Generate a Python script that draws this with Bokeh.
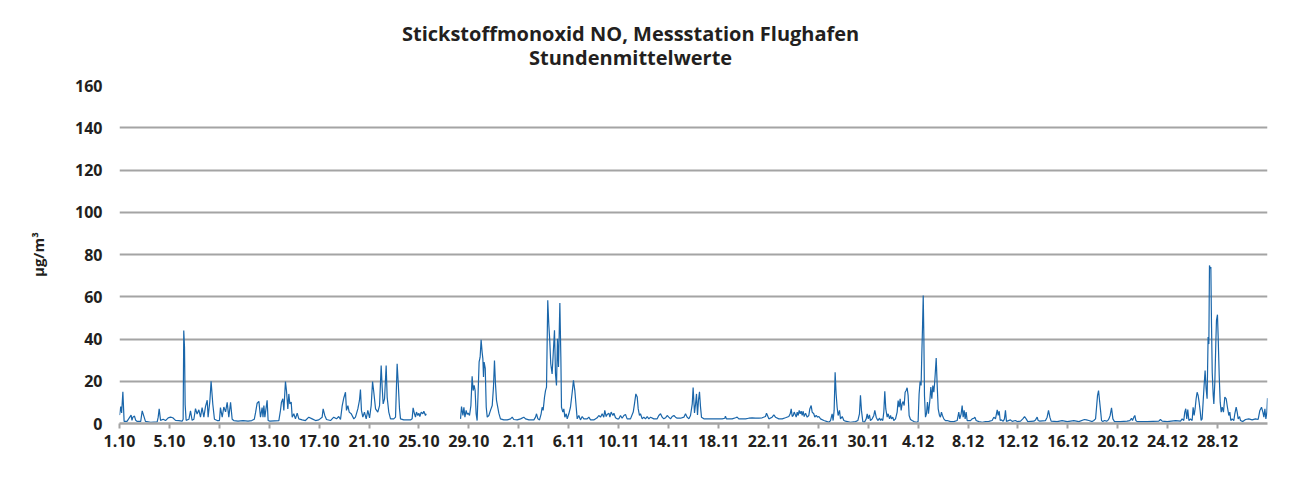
import numpy as np
from bokeh.plotting import figure
from bokeh.layouts import column
from bokeh.models import FixedTicker, Range1d
from bokeh.core.properties import value
from bokeh.embed import file_html
from bokeh.resources import INLINE

# time in days since 1.10 00:00, hourly NO values in µg/m³
days = [
    0.0, 0.1, 0.17, 0.27, 0.37, 0.6, 0.93, 1.0, 1.07, 1.2, 1.3, 1.42, 1.7, 1.82, 1.95, 2.08, 2.5, 3.02, 3.1, 3.18,
    3.29, 3.5, 3.69, 3.9, 4.09, 4.27, 4.49, 4.75, 5.02, 5.1, 5.15, 5.21, 5.26, 5.34, 5.56, 5.69, 5.82, 5.96, 6.09, 6.22,
    6.36, 6.49, 6.62, 6.76, 6.89, 7.03, 7.1, 7.24, 7.34, 7.48, 7.61, 7.83, 8.01, 8.09, 8.23, 8.36, 8.5, 8.63, 8.76, 8.9,
    9.03, 9.16, 9.5, 9.9, 10.3, 10.6, 10.8, 10.9, 11.03, 11.17, 11.3, 11.43, 11.5, 11.57, 11.65, 11.83, 11.91, 12.05,
    12.77, 12.9, 12.98, 13.09, 13.17, 13.3, 13.38, 13.49, 13.57, 13.65, 13.76, 13.84, 13.97, 14.1, 14.24, 14.37, 14.64,
    14.9, 15.17, 15.44, 15.71, 15.97, 16.24, 16.32, 16.45, 16.59, 16.91, 17.17, 17.39, 17.57, 17.71, 17.85, 17.98,
    18.11, 18.19, 18.3, 18.41, 18.57, 18.78, 18.91, 19.1, 19.23, 19.31, 19.39, 19.5, 19.63, 19.77, 19.9, 20.04, 20.17,
    20.28, 20.38, 20.52, 20.7, 20.84, 20.97, 21.05, 21.13, 21.24, 21.37, 21.45, 21.58, 21.72, 21.98, 22.12, 22.25,
    22.34, 22.44, 22.52, 22.78, 23.32,
    23.45, 23.53, 23.64, 23.72, 23.8, 23.91, 23.99, 24.07, 24.18, 24.31, 24.39, 24.52, 24.58,
    26.0,
    27.33, 27.41, 27.52, 27.6, 27.68, 27.78, 27.86, 27.94, 28.05, 28.16, 28.26, 28.34, 28.42, 28.5, 28.58, 28.66,
    28.74, 28.82, 28.9, 28.98, 29.06, 29.12, 29.17, 29.22, 29.31, 29.39, 29.47, 29.6, 29.73, 29.87, 29.97, 30.05,
    30.13, 30.21, 30.29, 30.4, 30.53, 30.8, 31.07, 31.34, 31.47, 31.6, 31.87, 32.14, 32.4, 32.54, 32.81, 33.21, 33.34,
    33.42, 33.53, 33.66, 33.79, 33.87, 33.95, 34.06, 34.14, 34.22, 34.32, 34.4, 34.48, 34.56, 34.67, 34.75, 34.86,
    34.94, 35.02, 35.1, 35.18, 35.29, 35.37, 35.42, 35.53, 35.61, 35.69, 35.8, 35.88, 36.01, 36.14, 36.28, 36.38,
    36.49, 36.6, 36.68, 36.81, 36.94, 37.08, 37.21, 37.48, 37.61, 37.75, 38.01, 38.28, 38.41, 38.55, 38.68, 38.81,
    38.89, 39.0, 39.08, 39.22, 39.3, 39.4, 39.54, 39.62, 39.75, 39.88, 40.02, 40.15, 40.28, 40.42, 40.55, 40.68,
    40.95, 41.17, 41.27, 41.38, 41.49, 41.57, 41.67, 41.75, 41.89, 42.02, 42.15, 42.29, 42.42, 42.56, 42.82, 43.09,
    43.22, 43.36, 43.49, 43.62, 43.76, 43.89, 44.02, 44.16, 44.29, 44.43, 44.56, 44.69, 44.96, 45.23, 45.36, 45.49,
    45.63, 45.76, 45.9, 45.97, 46.08, 46.16, 46.24, 46.32, 46.4, 46.48, 46.56, 46.64,
    46.83, 47.23, 47.76, 48.3, 48.51, 48.56, 48.64, 49.1, 49.37, 49.5, 49.63, 50.17, 50.43, 50.7, 50.97, 51.24, 51.5,
    51.77, 51.85, 51.93, 52.04, 52.3, 52.44, 52.57, 52.84, 53.11, 53.37, 53.64, 53.75, 53.83, 53.91, 53.99, 54.07,
    54.15, 54.23, 54.31, 54.39, 54.47, 54.55, 54.63, 54.71, 54.79, 54.87, 54.98, 55.11, 55.24, 55.32, 55.43, 55.51,
    55.64, 55.72, 55.83, 55.94, 56.05, 56.18, 56.45, 56.71, 56.85, 56.98, 57.11, 57.19, 57.27, 57.35, 57.43, 57.51,
    57.59, 57.7, 57.78, 57.92, 58.05, 58.18,
    58.58, 58.98, 59.17, 59.3, 59.38, 59.46, 59.57, 59.7, 59.84, 59.92, 60.0, 60.1, 60.18, 60.32, 60.45, 60.53, 60.64,
    60.77, 60.91, 60.99, 61.07, 61.17, 61.25, 61.33, 61.41, 61.52, 61.6, 61.71, 61.79, 61.87, 61.97, 62.05, 62.19,
    62.32, 62.4, 62.48, 62.56, 62.64, 62.72, 62.8, 62.88, 62.96, 63.04, 63.12, 63.2, 63.28, 63.39, 63.52, 63.66,
    63.87, 64.0, 64.08, 64.16, 64.24, 64.3, 64.35, 64.41, 64.46, 64.51, 64.59, 64.67, 64.75, 64.83, 64.94, 65.02,
    65.1, 65.18, 65.26, 65.34, 65.45, 65.53, 65.61, 65.71, 65.79, 65.87, 65.95, 66.06, 66.19, 66.33, 66.6, 66.86,
    67.13, 67.26, 67.34, 67.45, 67.53, 67.61, 67.69, 67.77, 67.85, 67.93, 68.2, 68.33, 68.47, 68.55, 68.65, 68.87,
    69.14, 69.4,
    69.67, 69.93, 70.07, 70.2, 70.34, 70.42, 70.5, 70.58, 70.68, 70.82, 70.92, 71.0, 71.08, 71.4, 71.54, 71.8, 71.94,
    72.21, 72.39, 72.53, 72.66, 72.79, 73.27, 73.41, 73.54, 73.62, 73.75, 74.21, 74.34, 74.45, 74.56, 74.66, 75.14,
    75.54, 75.95, 76.48, 76.88, 77.33, 77.49, 77.68, 77.95, 78.08, 78.22, 78.3, 78.38, 78.46, 78.54, 78.62, 78.7,
    78.8, 78.94, 79.1, 79.2, 79.29, 79.39, 79.5, 79.61, 79.74, 80.22, 80.75, 80.97, 81.1, 81.18,
    81.29, 81.37, 81.45, 81.55, 82.36, 83.29, 83.42, 83.56, 83.96, 84.63, 85.03, 85.16, 85.29, 85.37, 85.45, 85.53,
    85.61, 85.7, 85.83, 85.96, 86.04, 86.12, 86.2, 86.28, 86.36, 86.44, 86.52, 86.6, 86.68, 86.76, 86.84, 86.92,
    87.0, 87.08, 87.16, 87.24, 87.3, 87.35, 87.41, 87.46, 87.51, 87.57, 87.65, 87.7, 87.78, 87.86, 87.91, 87.99,
    88.05, 88.13, 88.21, 88.29, 88.37, 88.47, 88.58, 88.69, 88.79, 88.9, 88.98, 89.06, 89.17, 89.3, 89.38, 89.49,
    89.57, 89.65, 89.76, 89.84, 90.02, 90.24, 90.5, 90.77, 91.04, 91.25, 91.39, 91.52, 91.63, 91.71, 91.79, 91.87,
    91.95, 92.0,
]

no_values = [
    4, 8, 5, 15, 1, 1, 4, 1.5, 3, 3.5, 1.5, 1, 1, 6, 3.5, 1, 0.6, 0.8, 3, 7,
    1.5, 2, 1.4, 2.7, 3, 2.7, 1.5, 1.4, 1.1, 2, 44, 36, 9, 1.5, 2, 6, 1.5, 2, 7, 4.5,
    6.5, 3, 7.5, 3, 8, 11, 3, 10.5, 20, 9, 2, 1.4, 1.4, 7.5, 3, 7.8, 5.5, 10, 3, 10,
    2, 1.4, 1.1, 1.4, 1.1, 1.4, 2, 5, 9.6, 10.5, 3, 7.5, 3, 8.5, 3, 11, 1.4, 1.1,
    1.4, 6.2, 10.1, 11.7, 6.2, 19.9, 15.6, 6.9, 14, 9.3, 10.1, 3, 4.6, 2.2, 4.9, 2.2, 1.7,
    1.4, 3, 2.2, 1.4, 1.7, 3, 6.9, 3.8, 1.9, 1.4, 3, 2.2, 3.3, 1.9, 8.5, 12.2,
    14.8, 6.2, 8.5, 5.4, 4.6, 2.2, 3, 6.9, 10.9, 16.1, 6.2, 3, 5.4, 2.2, 6.2, 2.7, 8.5,
    19.9, 14.8, 6.9, 5.4, 8.5, 27.5, 17.2, 9.3, 11.7, 27.5, 12.5, 5.4, 2.2, 2.2, 3, 28.3,
    18.8, 6.9, 2.2, 1.7, 1.7,
    2.2, 7.4, 4.6, 3.0, 5.4, 3.8, 4.9, 3.3, 5.4, 4.6, 5.8, 3.8, 4.6,
    np.nan,
    2.2, 8.0, 3.8, 7.7, 3.0, 6.2, 4.3, 4.9, 3.8, 8.5, 22.3, 15.6, 18.0, 15.6, 4.6, 1.4,
    14.8, 29.2, 31.4, 39.6, 33.8, 30.6, 22.0, 29.1, 26.1, 7.7, 3.0, 3.8, 6.2, 8.5, 17.2, 29.8,
    18.8, 11.1, 8.5, 4.9, 2.2, 1.7, 1.7, 2.2, 3.0, 1.9, 1.7, 2.2, 3.0, 2.2, 1.7, 1.7, 3.0,
    4.6, 2.2, 1.7, 4.6, 7.7, 6.2, 12.5, 15.6, 17.2, 58.3, 47.2, 39.3, 28.3, 23.5, 32.2, 44.1,
    23.5, 18.0, 40.1, 26.7, 57.0, 31.4, 7.7, 5.4, 6.9, 3.0, 4.6, 2.2, 4.6, 7.7, 14.8, 20.4,
    15.6, 7.7, 2.2, 3.8, 1.7, 3.3, 2.2, 2.2, 3.0, 1.7, 1.7, 2.7, 3.8, 3.0, 4.6, 3.0,
    6.2, 3.3, 4.3, 4.9, 3.0, 5.4, 3.8, 4.9, 2.7, 2.2, 2.2, 3.8, 2.5, 3.8, 4.3, 2.2,
    2.2, 5.4, 9.3, 14.0, 12.5, 6.9, 3.8, 4.6, 2.2, 3.0, 2.2, 3.3, 2.2, 3.0, 2.2, 2.2,
    3.8, 4.6, 3.0, 2.2, 2.7, 3.8, 3.0, 2.2, 3.3, 3.8, 3.0, 2.5, 2.5, 3.0, 4.6, 3.0,
    2.2, 3.8, 9.3, 17.0, 5.0, 9.0, 14.0, 4.0, 11.0, 15.0, 8.0, 3.0,
    2.2, 2.2, 2.2, 2.2, 2.5, 3.5, 2.2, 2.2, 2.7, 3.0, 2.2, 2.2, 2.5, 2.7, 2.5, 2.5, 2.7,
    3.3, 4.9, 3.8, 2.2, 3.0, 4.1, 3.0, 2.2, 2.2, 2.7, 3.3, 4.6, 6.9, 3.3, 3.8, 5.4,
    4.3, 3.0, 5.4, 3.8, 6.2, 4.6, 5.8, 3.8, 5.8, 3.3, 4.9, 3.0, 3.8, 6.9, 8.5, 5.4,
    4.6, 3.0, 3.8, 3.0, 3.3, 2.2, 1.4, 0.9, 0.6, 1.4, 4.6, 1.4, 6.2, 24.3, 14.0, 7.7,
    3.8, 6.2, 2.2, 3.3, 1.4, 1.1,
    0.6, 0.9, 1.4, 4.6, 13.3, 6.2, 0.9, 0.6, 2.2, 4.6, 2.2, 4.1, 1.4, 2.2, 3.8, 6.2, 3.0,
    1.4, 2.5, 1.4, 2.2, 1.4, 5.4, 15.2, 6.9, 3.0, 4.6, 2.2, 3.8, 2.2, 3.0, 1.4, 2.2,
    5.4, 10.9, 7.7, 11.7, 6.2, 9.3, 10.4, 8.5, 14.8, 15.6, 16.9, 13.3, 3.8, 1.9, 1.4, 0.9,
    0.6, 0.9, 14.0, 19.9, 18.0, 33.6, 44.7, 60.6, 41.7, 13.3, 3.0, 4.6, 10.1, 4.6, 10.9, 17.2,
    11.7, 18.0, 14.8, 20.5, 31.0, 18.0, 6.9, 3.8, 3.0, 5.4, 3.8, 2.2, 1.4, 1.4, 0.9, 0.9,
    1.4, 5.4, 2.2, 4.6, 8.5, 3.0, 6.2, 2.2, 5.4, 1.4, 1.4, 2.2, 2.5, 3.0, 1.4, 0.9,
    0.6, 0.9,
    1.0, 1.4, 3.0, 2.2, 6.5, 3.8, 5.8, 1.4, 1.7, 1.1, 2.2, 6.2, 1.0, 1.7, 1.0, 1.4, 0.9,
    1.1, 2.2, 3.3, 2.2, 0.9, 1.1, 1.7, 3.0, 1.4, 1.1, 1.4, 3.0, 6.2, 3.0, 1.1, 0.9,
    1.4, 0.9, 1.4, 0.9, 1.9, 1.7, 1.4, 0.9, 1.4, 2.2, 7.7, 13.3, 15.6, 10.9, 6.2, 1.4,
    0.9, 1.4, 1.1, 1.4, 2.2, 3.8, 7.4, 2.2, 0.9, 0.9, 1.1, 1.4, 2.5, 1.4,
    3.0, 3.8, 1.4, 0.9, 0.9, 1.1, 1.9, 1.1, 0.9, 1.4, 1.1, 2.2, 1.4, 5.4, 7.0, 2.2,
    6.6, 1.4, 2.2, 1.4, 7.7, 3.8, 7.0, 11.7, 14.8, 13.3, 10.1, 6.2, 1.4, 2.2, 10.1, 18.0,
    25.1, 16.6, 11.7, 40.9, 37.6, 74.8, 73.3, 74.1, 48.0, 24.3, 13.3, 9.3, 19.6, 38.5, 48.8, 51.5,
    40.1, 22.7, 10.1, 5.4, 7.7, 5.4, 12.5, 11.7, 7.7, 3.8, 5.4, 1.4, 2.2, 1.4, 4.6, 7.7,
    5.4, 2.2, 3.3, 1.4, 0.9, 1.9, 2.2, 1.7, 2.2, 1.9, 6.2, 7.7, 5.4, 3.0, 7.0, 2.2,
    5.4, 12.0,
]

tick_days = [0, 4, 8, 12, 16, 20, 24, 28, 32, 36, 40, 44, 48, 52, 56, 60, 64, 68, 72, 76, 80, 84, 88]
tick_labels = ["1.10", "5.10", "9.10", "13.10", "17.10", "21.10", "25.10", "29.10", "2.11", "6.11",
               "10.11", "14.11", "18.11", "22.11", "26.11", "30.11", "4.12", "8.12", "12.12", "16.12",
               "20.12", "24.12", "28.12"]
y_ticks = [0, 20, 40, 60, 80, 100, 120, 140, 160]
title_lines = ["Stickstoffmonoxid NO, Messstation Flughafen", "Stundenmittelwerte"]

FONT = "Open Sans"
TXT = "#231f20"
GRID = "#a4a4a4"
W = 1305
TOP_H = 75

# --- title strip (a figure of its own, pixel-like ranges) ---
t = figure(width=W, height=TOP_H, output_backend="svg", toolbar_location=None, tools="",
           x_range=Range1d(0, W), y_range=Range1d(0, TOP_H), x_axis_type=None, y_axis_type=None,
           min_border=0, outline_line_color=None, background_fill_color="white", border_fill_color="white")
t.xgrid.visible = False
t.ygrid.visible = False
t.text(x=[581, 581], y=[TOP_H - 33, TOP_H - 57], text=title_lines,
       text_align="center", text_baseline="middle", text_font=value(FONT),
       text_font_size="20px", text_font_style="bold", text_color=TXT)

# --- main chart ---
p = figure(width=W, height=478 - TOP_H, output_backend="svg", toolbar_location=None, tools="",
           x_range=Range1d(0, 92), y_range=Range1d(0, 160),
           min_border_left=119, min_border_right=38, min_border_top=10, min_border_bottom=55,
           background_fill_color="white", border_fill_color="white", outline_line_color=None)

p.line(days, no_values, line_color="#1a66aa", line_width=1.2)

p.xgrid.grid_line_color = None
p.ygrid.ticker = FixedTicker(ticks=y_ticks)
p.ygrid.grid_line_color = GRID
p.ygrid.grid_line_width = 2

p.xaxis.ticker = FixedTicker(ticks=tick_days)
p.xaxis.major_label_overrides = {d: l for d, l in zip(tick_days, tick_labels)}
p.xaxis.axis_line_color = GRID
p.xaxis.axis_line_width = 2.5
p.xaxis.major_tick_line_color = GRID
p.xaxis.major_tick_line_width = 2
p.xaxis.major_tick_out = 5
p.xaxis.major_tick_in = 0
p.xaxis.minor_tick_line_color = None
p.xaxis.major_label_standoff = 6

p.yaxis.ticker = FixedTicker(ticks=y_ticks)
p.yaxis.axis_line_color = None
p.yaxis.major_tick_line_color = None
p.yaxis.minor_tick_line_color = None
p.yaxis.major_label_standoff = 11
p.yaxis.axis_label = "µg/m³"
p.yaxis.axis_label_standoff = 24
p.yaxis.axis_label_text_font = FONT
p.yaxis.axis_label_text_font_size = "15px"
p.yaxis.axis_label_text_font_style = "bold"
p.yaxis.axis_label_text_color = TXT

for ax in (p.xaxis, p.yaxis):
    ax.major_label_text_font = FONT
    ax.major_label_text_font_size = "16px"
    ax.major_label_text_font_style = "bold"
    ax.major_label_text_color = TXT

layout = column(t, p, spacing=0)
open("out.html", "w").write(file_html(layout, INLINE))
